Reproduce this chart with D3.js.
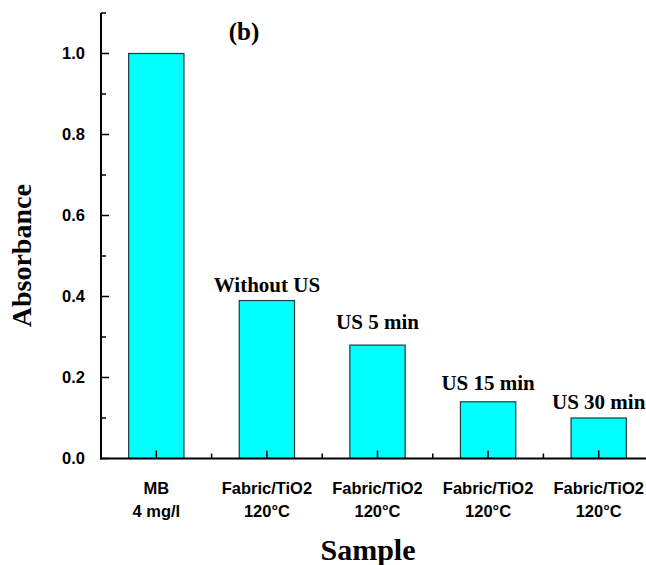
<!DOCTYPE html>
<html>
<head>
<meta charset="utf-8">
<script src="https://cdn.jsdelivr.net/npm/d3@7"></script>
<style>
  html, body { margin: 0; padding: 0; background: #fff; }
  svg { display: block; }
</style>
</head>
<body>
<svg id="chart" width="646" height="565"></svg>
<script>
// ---- data ----
const categories = ["MB", "FT1", "FT2", "FT3", "FT4"];
const tickLine1 = ["MB", "Fabric/TiO2", "Fabric/TiO2", "Fabric/TiO2", "Fabric/TiO2"];
const tickLine2 = ["4 mg/l", "120°C", "120°C", "120°C", "120°C"];
const absorbance = [1.0, 0.39, 0.28, 0.14, 0.10];
const barLabels = ["", "Without US", "US 5 min", "US 15 min", "US 30 min"];
const yMajorTicks = [0.0, 0.2, 0.4, 0.6, 0.8, 1.0];
const yMinorTicks = [0.1, 0.3, 0.5, 0.7, 0.9, 1.1];
const labelGap = [0, 9, 16, 12, 9];

// ---- layout ----
const svg = d3.select("#chart");
const x0 = 101, x1 = 654, yTop = 13, yBottom = 458.5;

const y = d3.scaleLinear().domain([0, 1.1]).range([yBottom, yTop]);
const x = d3.scaleBand().domain(categories).range([x0, x1])
  .paddingInner(0.5).paddingOuter(0.25);

// bars
svg.append("g").selectAll("rect").data(absorbance).join("rect")
  .attr("x", (d, i) => x(categories[i]))
  .attr("y", d => y(d))
  .attr("width", x.bandwidth())
  .attr("height", d => y(0) - y(d))
  .attr("fill", "#00FFFF")
  .attr("stroke", "#1c3b3b")
  .attr("stroke-width", 1.2);

// bar annotations
svg.append("g").selectAll("text").data(absorbance).join("text")
  .attr("x", (d, i) => x(categories[i]) + x.bandwidth() / 2)
  .attr("y", (d, i) => y(d) - labelGap[i])
  .attr("text-anchor", "middle")
  .attr("font-family", "'Liberation Serif', 'Times New Roman', serif")
  .attr("font-weight", "bold")
  .attr("font-size", 21)
  .attr("fill", "#000")
  .text((d, i) => barLabels[i]);

// y axis
const yAxis = svg.append("g");
yAxis.append("line")
  .attr("x1", x0).attr("x2", x0)
  .attr("y1", y(1.1)).attr("y2", y(0) + 1)
  .attr("stroke", "#000").attr("stroke-width", 2);
yAxis.selectAll("line.major").data(yMajorTicks).join("line")
  .attr("class", "major")
  .attr("x1", x0).attr("x2", x0 + 8)
  .attr("y1", d => y(d)).attr("y2", d => y(d))
  .attr("stroke", "#000").attr("stroke-width", 1.5);
yAxis.selectAll("line.minor").data(yMinorTicks).join("line")
  .attr("class", "minor")
  .attr("x1", x0).attr("x2", x0 + 5)
  .attr("y1", d => y(d)).attr("y2", d => y(d))
  .attr("stroke", "#000").attr("stroke-width", 1.5);
yAxis.selectAll("text").data(yMajorTicks).join("text")
  .attr("x", x0 - 16)
  .attr("y", d => y(d))
  .attr("dy", "0.36em")
  .attr("text-anchor", "end")
  .attr("font-family", "'Liberation Sans', Arial, sans-serif")
  .attr("font-weight", "bold")
  .attr("font-size", 16.5)
  .attr("fill", "#000")
  .text(d => d3.format(".1f")(d));

// x axis
const xAxis = svg.append("g");
xAxis.append("line")
  .attr("x1", x0 - 1).attr("x2", 646)
  .attr("y1", y(0)).attr("y2", y(0))
  .attr("stroke", "#000").attr("stroke-width", 2);
xAxis.selectAll("line.major").data(categories).join("line")
  .attr("class", "major")
  .attr("x1", d => x(d) + x.bandwidth() / 2).attr("x2", d => x(d) + x.bandwidth() / 2)
  .attr("y1", y(0)).attr("y2", y(0) - 8)
  .attr("stroke", "#000").attr("stroke-width", 1.5);
xAxis.selectAll("line.minor").data(categories.slice(1)).join("line")
  .attr("class", "minor")
  .attr("x1", d => x(d) - x.step() * x.paddingInner() / 2)
  .attr("x2", d => x(d) - x.step() * x.paddingInner() / 2)
  .attr("y1", y(0)).attr("y2", y(0) - 5)
  .attr("stroke", "#000").attr("stroke-width", 1.5);
const xl = xAxis.selectAll("text.tl").data(categories).join("text")
  .attr("class", "tl")
  .attr("x", d => x(d) + x.bandwidth() / 2)
  .attr("y", y(0) + 35)
  .attr("text-anchor", "middle")
  .attr("font-family", "'Liberation Sans', Arial, sans-serif")
  .attr("font-weight", "bold")
  .attr("font-size", 16.5)
  .attr("fill", "#000");
xl.append("tspan")
  .attr("x", d => x(d) + x.bandwidth() / 2)
  .text((d, i) => tickLine1[i]);
xl.append("tspan")
  .attr("x", d => x(d) + x.bandwidth() / 2)
  .attr("dy", 23)
  .text((d, i) => tickLine2[i]);

// axis titles
svg.append("text")
  .attr("transform", `translate(31,${(yTop + yBottom) / 2 + 20}) rotate(-90)`)
  .attr("text-anchor", "middle")
  .attr("font-family", "'Liberation Serif', 'Times New Roman', serif")
  .attr("font-weight", "bold")
  .attr("font-size", 28)
  .attr("fill", "#000")
  .text("Absorbance");

svg.append("text")
  .attr("x", 368)
  .attr("y", 560)
  .attr("text-anchor", "middle")
  .attr("font-family", "'Liberation Serif', 'Times New Roman', serif")
  .attr("font-weight", "bold")
  .attr("font-size", 30)
  .attr("fill", "#000")
  .text("Sample");

// panel label
svg.append("text")
  .attr("x", 244)
  .attr("y", 40)
  .attr("text-anchor", "middle")
  .attr("font-family", "'Liberation Serif', 'Times New Roman', serif")
  .attr("font-weight", "bold")
  .attr("font-size", 25)
  .attr("fill", "#000")
  .text("(b)");
</script>
</body>
</html>
